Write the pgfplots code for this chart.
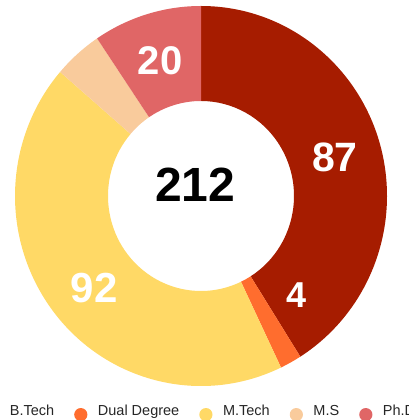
\documentclass[border=0pt]{standalone}
\usepackage{pgfplots}
\pgfplotsset{compat=1.18}
\usepackage{pgfplotstable}
\usepackage{fontspec}
\setmainfont{Liberation Sans}

\definecolor{btech}{HTML}{A61C00}
\definecolor{dual}{HTML}{FF6D2E}
\definecolor{mtech}{HTML}{FFD966}
\definecolor{ms}{HTML}{F9CB9C}
\definecolor{phd}{HTML}{E06666}

% value, slice colour, label position (axis units) and label size (0 = no label)
\pgfplotstableread{
value colour lx     ly     size
87    btech   0.720  0.205 41
4     dual    0.511 -0.521 36
92    mtech  -0.575 -0.484 42
9     ms      0      0     0
20    phd    -0.220  0.711 40
}\piedata

\begin{document}
\begin{tikzpicture}
\useasboundingbox (0,0) rectangle (408pt,420pt);
\begin{axis}[
    hide axis,
    scale only axis,
    width=372pt, height=380pt,
    xmin=-1, xmax=1, ymin=-1, ymax=1,
    at={(201pt,224pt)}, anchor=center,
    legend columns=-1,
    legend image code/.code={\fill[#1, draw=none] (0pt,0pt) circle[radius=6.6pt];},
    legend style={draw=none, fill=none, inner sep=0pt,
        at={(-0.078,-0.0715)}, anchor=west,
        font=\fontsize{14.5}{17}\selectfont, text=black!85,
        nodes={inner sep=0pt},
        /tikz/every odd column/.append style={column sep=10.5pt},
        /tikz/every even column/.append style={column sep=20pt, yshift=3.5pt}},
]
\addlegendimage{fill=btech}
\addlegendimage{fill=dual}
\addlegendimage{fill=mtech}
\addlegendimage{fill=ms}
\addlegendimage{fill=phd}
\legend{B.Tech, Dual Degree, M.Tech, M.S, Ph.D}

\pgfplotsextra{
  \pgfplotstablegetrowsof{\piedata}
  \pgfmathtruncatemacro{\lastrow}{\pgfplotsretval-1}
  % total of all slices
  \gdef\total{0}
  \foreach \i in {0,...,\lastrow}{
    \pgfplotstablegetelem{\i}{value}\of\piedata
    \pgfmathsetmacro{\newtotal}{\total+\pgfplotsretval}
    \global\let\total\newtotal
  }
  \gdef\cum{0}
  \begin{scope}[shift={(axis cs:0,0)}, x=186pt, y=190pt]
  \foreach \i in {0,...,\lastrow}{
    \pgfplotstablegetelem{\i}{value}\of\piedata \let\val\pgfplotsretval
    \pgfplotstablegetelem{\i}{colour}\of\piedata \let\col\pgfplotsretval
    \pgfmathsetmacro{\aone}{90-\cum/\total*360}
    \pgfmathsetmacro{\atwo}{90-(\cum+\val)/\total*360}
    \fill[fill=\col] (\aone:1) arc[start angle=\aone, end angle=\atwo, radius=1]
       -- (\atwo:0.5) arc[start angle=\atwo, end angle=\aone, radius=0.5] -- cycle;
    \pgfmathsetmacro{\newcum}{\cum+\val}
    \global\let\cum\newcum
  }
  % slice labels
  \foreach \i in {0,...,\lastrow}{
    \pgfplotstablegetelem{\i}{value}\of\piedata \let\val\pgfplotsretval
    \pgfplotstablegetelem{\i}{lx}\of\piedata \let\lx\pgfplotsretval
    \pgfplotstablegetelem{\i}{ly}\of\piedata \let\ly\pgfplotsretval
    \pgfplotstablegetelem{\i}{size}\of\piedata \let\sz\pgfplotsretval
    \ifnum\sz>0
      \node[text=white, font=\bfseries\fontsize{\sz}{\sz}\selectfont, inner sep=0pt]
        at (\lx,\ly) {\val};
    \fi
  }
  \pgfmathtruncatemacro{\tot}{\total}
  \node[font=\bfseries\fontsize{48}{48}\selectfont, inner sep=0pt] at (-0.032,0.058) {\tot};
  \end{scope}
}
\end{axis}
\end{tikzpicture}
\end{document}
